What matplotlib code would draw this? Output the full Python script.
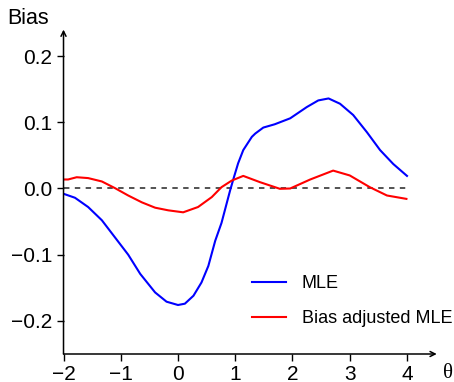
import matplotlib
matplotlib.use("Agg")
import matplotlib.pyplot as plt

plt.rcParams['font.family'] = ['Liberation Sans', 'DejaVu Sans']

# values
mle_theta = [-2.0, -1.8, -1.57, -1.33, -1.1, -0.87, -0.66, -0.40, -0.20, 0.0, 0.12,
             0.27, 0.41, 0.53, 0.65, 0.76, 0.91, 0.97, 1.05, 1.14, 1.29, 1.35, 1.49,
             1.69, 1.96, 2.25, 2.45, 2.63, 2.83, 3.06, 3.30, 3.53, 3.76, 4.0]
mle_bias = [-0.008, -0.014, -0.028, -0.048, -0.074, -0.100, -0.129, -0.157, -0.171,
            -0.176, -0.174, -0.162, -0.142, -0.117, -0.079, -0.052, -0.003, 0.015,
            0.038, 0.058, 0.078, 0.083, 0.092, 0.097, 0.106, 0.123, 0.133, 0.136,
            0.128, 0.111, 0.085, 0.058, 0.037, 0.019]

adj_theta = [-2.0, -1.92, -1.77, -1.57, -1.33, -1.1, -0.87, -0.63, -0.40, -0.17, 0.09,
             0.35, 0.59, 0.76, 0.94, 1.14, 1.43, 1.78, 1.96, 2.31, 2.71, 3.0, 3.35,
             3.65, 3.99]
adj_bias = [0.0136, 0.0136, 0.017, 0.0157, 0.0106, 0.0005, -0.0106, -0.021, -0.029,
            -0.033, -0.036, -0.028, -0.013, 0.002, 0.012, 0.019, 0.0096, -0.0005, 0.0,
            0.0136, 0.027, 0.0197, 0.002, -0.0106, -0.0157]

x_ticks = [-2, -1, 0, 1, 2, 3, 4]
y_ticks = [-0.2, -0.1, 0.0, 0.1, 0.2]

fig = plt.figure(figsize=(4.54, 3.82), dpi=100)
ax = fig.add_axes([0.1399, 0.0733, 0.8293, 0.8534])
ax.set_xlim(-2, 4.577)
ax.set_ylim(-0.25, 0.2424)

ax.plot([-2, 4], [0, 0], color='#444444', lw=1.3, dashes=(3, 3))
ax.plot(mle_theta, mle_bias, color='blue', lw=1.5, label='MLE')
ax.plot(adj_theta, adj_bias, color='red', lw=1.5, label='Bias adjusted MLE')

for s in ax.spines.values():
    s.set_visible(False)

# axes with arrow heads
arrow = dict(arrowstyle='->', color='black', lw=1.1, shrinkA=0, shrinkB=0,
             mutation_scale=9)
ax.annotate('', xy=(4.52, -0.25), xytext=(-2, -0.25), arrowprops=arrow,
            annotation_clip=False)
ax.annotate('', xy=(-2, 0.24), xytext=(-2, -0.25), arrowprops=arrow,
            annotation_clip=False)

ax.set_xticks(x_ticks)
ax.set_xticklabels([str(t).replace('-', '\u2212') for t in x_ticks])
ax.set_yticks(y_ticks)
ax.set_yticklabels([f"{t:.1f}".replace('-', '\u2212') for t in y_ticks])
ax.tick_params(axis='x', length=5, width=1, pad=3, labelsize=15)
ax.tick_params(axis='y', length=5, width=1, pad=3, labelsize=15)

fig.text(7 / 454, 1 - 18 / 382, 'Bias', ha='left', va='center', fontsize=15.5)
fig.text(448 / 454, 1 - 374 / 382, '\u03b8', ha='center', va='center',
         fontsize=15, family=['Liberation Serif', 'DejaVu Serif'])

ax.legend(loc='upper left', bbox_to_anchor=(0.482, 0.265), frameon=False,
          fontsize=13, handlelength=1.85, handletextpad=0.9, labelspacing=1.0,
          borderaxespad=0)

fig.savefig('out.png', dpi=100)
